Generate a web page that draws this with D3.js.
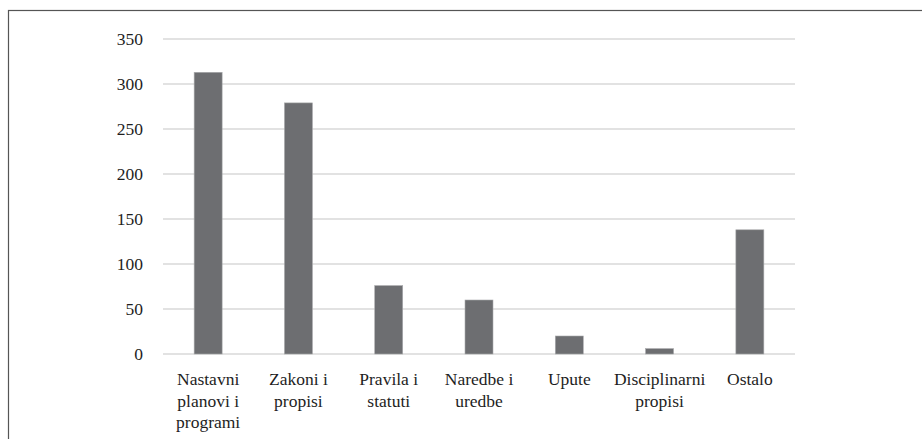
<!DOCTYPE html>
<html>
<head>
<meta charset="utf-8">
<script src="https://cdn.jsdelivr.net/npm/d3@7"></script>
<style>
    body { margin: 0; background: #fff; }
    svg { display: block; }
    svg text { font-family: 'Liberation Serif', 'Times New Roman', serif; }
</style>
</head>
<body>
<div id="chart"></div>
<script>
// Chart data
const categories = ['Nastavni planovi i programi', 'Zakoni i propisi', 'Pravila i statuti', 'Naredbe i uredbe', 'Upute', 'Disciplinarni propisi', 'Ostalo'];
const values = [313, 279, 76, 60, 20, 6, 138];
const yTicks = [0, 50, 100, 150, 200, 250, 300, 350];

const width = 922;
const height = 439;
const margin = { top: 39, right: 127, bottom: 85, left: 163 };

const svg = d3.select('#chart')
    .append('svg')
    .attr('width', width)
    .attr('height', height);

// outer frame (top and left edges visible, rest runs off the picture)
svg.append('rect')
    .attr('x', 8.5)
    .attr('y', 10.5)
    .attr('width', width)
    .attr('height', height)
    .attr('fill', 'none')
    .attr('stroke', '#555')
    .attr('stroke-width', 1.2);

const xScale = d3.scaleBand()
    .domain(categories)
    .range([margin.left, width - margin.right])
    .paddingInner(0.69)
    .paddingOuter(0.345);

const yScale = d3.scaleLinear()
    .domain([0, 350])
    .range([height - margin.bottom, margin.top]);

// gridlines
svg.append('g')
    .attr('class', 'gridlines')
    .selectAll('line')
    .data(yTicks)
    .join('line')
    .attr('x1', margin.left)
    .attr('x2', width - margin.right)
    .attr('y1', d => yScale(d))
    .attr('y2', d => yScale(d))
    .attr('stroke', '#d9d9d9')
    .attr('stroke-width', 1.5);

// bars
svg.append('g')
    .selectAll('rect')
    .data(values)
    .join('rect')
    .attr('x', (d, i) => xScale(categories[i]))
    .attr('y', d => yScale(d))
    .attr('width', xScale.bandwidth())
    .attr('height', d => yScale(0) - yScale(d))
    .attr('fill', '#6d6e71')
    .attr('stroke', '#a9aaac')
    .attr('stroke-width', 0.6);

// y axis
const yAxis = d3.axisLeft(yScale)
    .tickValues(yTicks)
    .tickSize(0)
    .tickPadding(20);

svg.append('g')
    .attr('transform', `translate(${margin.left}, 0)`)
    .call(yAxis)
    .attr('font-family', null)
    .call(g => g.select('.domain').remove())
    .selectAll('text')
    .style('font-size', '17.5px')
    .attr('fill', '#1e1e1e');

// x axis with wrapped labels
const xAxis = d3.axisBottom(xScale).tickSize(0).tickPadding(0);

const xg = svg.append('g')
    .attr('transform', `translate(0, ${yScale(0)})`)
    .call(xAxis)
    .attr('font-family', null)
    .call(g => g.select('.domain').remove());

xg.selectAll('text')
    .style('font-size', '17.5px')
    .attr('fill', '#1e1e1e')
    .attr('y', 31)
    .attr('dy', 0)
    .each(function () { wrap(d3.select(this), xScale.step() + 4); });

function wrap(text, maxWidth) {
    const words = text.text().split(/\s+/);
    text.text(null);
    let line = [];
    let tspan = text.append('tspan').attr('x', 0).attr('dy', 0);
    for (const word of words) {
        line.push(word);
        tspan.text(line.join(' '));
        if (tspan.node().getComputedTextLength() > maxWidth && line.length > 1) {
            line.pop();
            tspan.text(line.join(' '));
            line = [word];
            tspan = text.append('tspan').attr('x', 0).attr('dy', 21.5).text(word);
        }
    }
}
</script>
</body>
</html>
